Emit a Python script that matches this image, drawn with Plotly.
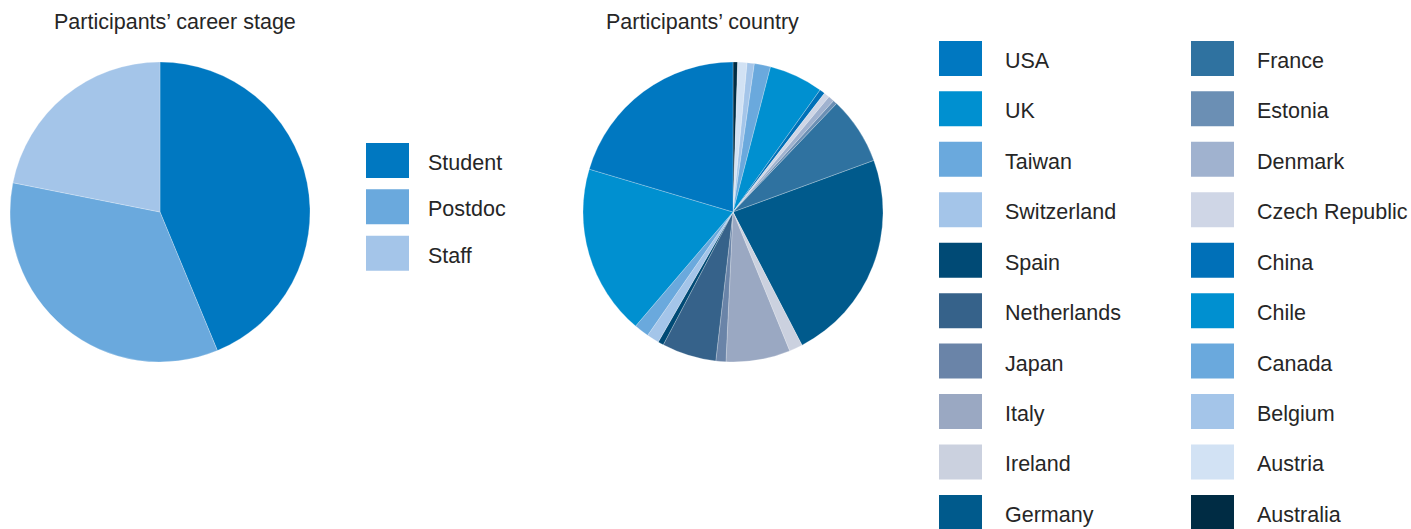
import plotly.graph_objects as go

# ---------------- data ----------------
stage_labels = ["Student", "Postdoc", "Staff"]
stage_values = [14, 11, 7]
stage_colors = ["#0078c1", "#6aa9dd", "#a4c5e9"]

# pie order (clockwise from 12 o'clock)
country_labels = ["Australia", "Austria", "Belgium", "Canada", "Chile", "China",
                  "Czech Republic", "Denmark", "Estonia", "France", "Germany",
                  "Ireland", "Italy", "Japan", "Netherlands", "Spain",
                  "Switzerland", "Taiwan", "UK", "USA"]
country_values = [1.8, 3.6, 2.8, 6.3, 21.0, 2.1, 2.2, 2.3, 1.6, 26.2, 82.7,
                  5.2, 24.9, 3.9, 21.1, 2.2, 4.8, 5.8, 66.1, 73.4]
country_colors = ["#002c44", "#d2e2f4", "#a4c5e9", "#6aa9dd", "#0090d0", "#0070b8",
                  "#cfd6e6", "#a0b2cf", "#6b8fb4", "#2f72a0", "#005a8c",
                  "#cbd1df", "#9aa8c2", "#6a84a8", "#36628a", "#004a75",
                  "#a4c5e9", "#6aa9dd", "#0090d0", "#0078c1"]

titles = ["Participants’ career stage", "Participants’ country"]

# ---------------- layout helpers ----------------
W, H = 1411, 529
FONT = "Liberation Sans, Arial, sans-serif"
TXT = "#262626"


def px(x):
    return x / W


def py(y):
    return 1 - y / H


fig = go.Figure()

fig.add_trace(go.Pie(
    labels=stage_labels, values=stage_values, sort=False, direction="clockwise",
    rotation=0, marker=dict(colors=stage_colors, line=dict(color="rgba(255,255,255,0.6)", width=0.4)),
    textinfo="none", hoverinfo="label+percent", showlegend=False,
    domain=dict(x=[px(10), px(310)], y=[py(362), py(62)]),
))

fig.add_trace(go.Pie(
    labels=country_labels, values=country_values, sort=False, direction="clockwise",
    rotation=0, marker=dict(colors=country_colors, line=dict(color="rgba(255,255,255,0.6)", width=0.4)),
    textinfo="none", hoverinfo="label+percent", showlegend=False,
    domain=dict(x=[px(583), px(883)], y=[py(362), py(62)]),
))

shapes = []
annotations = []

# titles
for t, cx in zip(titles, [175, 702.5]):
    annotations.append(dict(text=t, x=px(cx), y=py(22), xref="paper", yref="paper",
                            xanchor="center", yanchor="middle", showarrow=False,
                            font=dict(family=FONT, size=21.5, color=TXT)))

SW_W, SW_H = 43, 35

# left legend
for i, (lab, col) in enumerate(zip(stage_labels, stage_colors)):
    cy = 160.4 + i * 46.4
    shapes.append(dict(type="rect", xref="paper", yref="paper",
                       x0=px(366), x1=px(366 + SW_W), y0=py(cy + SW_H / 2), y1=py(cy - SW_H / 2),
                       fillcolor=col, line=dict(width=0)))
    annotations.append(dict(text=lab, x=px(426), y=py(cy + 2.5), xref="paper", yref="paper",
                            xanchor="left", yanchor="middle", showarrow=False,
                            font=dict(family=FONT, size=21.5, color=TXT)))

# right legend: reverse alphabetical, column-major, 10 rows
legend_order = list(reversed(range(len(country_labels))))
for k, idx in enumerate(legend_order):
    col_i, row_i = divmod(k, 10)
    sx = 939 + col_i * 252
    cy = 58.4 + row_i * 50.45
    shapes.append(dict(type="rect", xref="paper", yref="paper",
                       x0=px(sx), x1=px(sx + SW_W), y0=py(cy + SW_H / 2), y1=py(cy - SW_H / 2),
                       fillcolor=country_colors[idx], line=dict(width=0)))
    annotations.append(dict(text=country_labels[idx], x=px(sx + 64), y=py(cy + 2.5),
                            xref="paper", yref="paper", xanchor="left", yanchor="middle",
                            showarrow=False, font=dict(family=FONT, size=21.5, color=TXT)))

fig.update_layout(
    width=W, height=H, margin=dict(l=0, r=0, t=0, b=0),
    paper_bgcolor="white", plot_bgcolor="white",
    shapes=shapes, annotations=annotations, showlegend=False,
)

fig.write_html("out.html", config={"displayModeBar": False})
